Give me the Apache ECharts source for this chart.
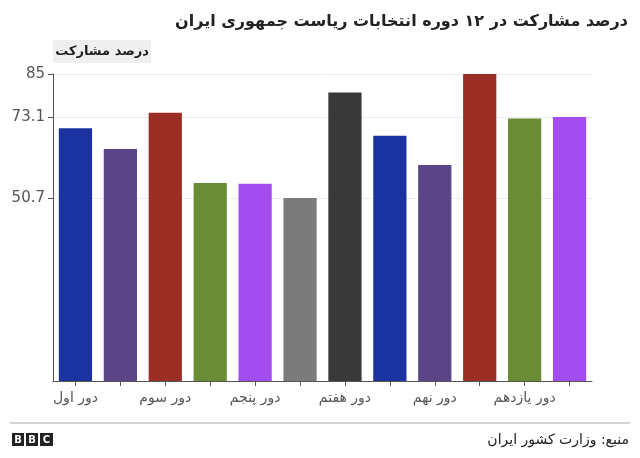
<!DOCTYPE html>
<html>
<head>
<meta charset="utf-8">
<script src="https://cdn.jsdelivr.net/npm/echarts@6/dist/echarts.min.js"></script>
<style>
html,body{margin:0;padding:0;background:#fff;}
#c{width:640px;height:458px;}
</style>
</head>
<body>
<div id="c"></div>
<script>
var categories = ['دور اول','دور دوم','دور سوم','دور چهارم','دور پنجم','دور ششم','دور هفتم','دور هشتم','دور نهم','دور دهم','دور یازدهم','دور دوازدهم'];
var turnout = [70.0, 64.2, 74.3, 54.8, 54.6, 50.7, 79.9, 67.9, 59.8, 85.0, 72.7, 73.1];
var barColors = ['#1b33a1','#5a4588','#9b2f25','#6b8c36','#a34cef','#7b7b7b','#393939','#1b33a1','#5a4588','#9b2f25','#6b8c36','#a34cef'];
var yTicks = [50.7, 73.1, 85];
var titleText = 'درصد مشارکت در ۱۲ دوره انتخابات ریاست جمهوری ایران';
var yAxisName = 'درصد مشارکت';
var sourceText = 'منبع: وزارت کشور ایران';

var FONT = '"DejaVu Sans", sans-serif';
var chart = echarts.init(document.getElementById('c'), null, {renderer:'canvas'});
chart.setOption({
  animation:false,
  backgroundColor:'#fff',
  title:{
    text:titleText, right:7, top:9,
    textStyle:{fontFamily:FONT, fontSize:16, fontWeight:'bold', color:'#222'}
  },
  grid:{left:53, right:48, top:74, bottom:77, containLabel:false},
  xAxis:{
    type:'category', data:categories,
    axisLine:{show:true, lineStyle:{color:'#555', width:1}},
    axisTick:{show:true, alignWithLabel:true, interval:0, length:5, lineStyle:{color:'#555'}},
    axisLabel:{interval:1, color:'#555', fontFamily:FONT, fontSize:14, margin:10},
    splitLine:{show:false}
  },
  yAxis:{
    type:'value', min:0, max:85,
    axisLine:{show:true, lineStyle:{color:'#555', width:1}},
    axisTick:{show:true, length:5, customValues:yTicks, lineStyle:{color:'#555'}},
    axisLabel:{customValues:yTicks, color:'#555', fontFamily:FONT, fontSize:15, margin:8,
      formatter:function(v){return String(v);}},
    splitLine:{show:true, lineStyle:{color:'#ececec', width:1}}
  },
  series:[{
    type:'bar',
    data:turnout.map(function(v,i){return {value:v, itemStyle:{color:barColors[i]}};}),
    barCategoryGap:'26%'
  }],
  graphic:[
    {type:'rect', shape:{x:53, y:40, width:98, height:23}, style:{fill:'#efefef'}},
    {type:'text', style:{x:102, y:51.5, text:yAxisName, font:'bold 13px '+FONT, fill:'#222', textAlign:'center', textVerticalAlign:'middle'}},
    {type:'line', shape:{x1:10, y1:423, x2:630, y2:423}, style:{stroke:'#aaa', lineWidth:1}},
    {type:'rect', shape:{x:12, y:433, width:12, height:13}, style:{fill:'#222'}},
    {type:'rect', shape:{x:26, y:433, width:12, height:13}, style:{fill:'#222'}},
    {type:'rect', shape:{x:40, y:433, width:13, height:13}, style:{fill:'#222'}},
    {type:'text', style:{x:18, y:440, text:'B', font:'bold 10px "DejaVu Sans"', fill:'#fff', textAlign:'center', textVerticalAlign:'middle'}},
    {type:'text', style:{x:32, y:440, text:'B', font:'bold 10px "DejaVu Sans"', fill:'#fff', textAlign:'center', textVerticalAlign:'middle'}},
    {type:'text', style:{x:46.5, y:440, text:'C', font:'bold 10px "DejaVu Sans"', fill:'#fff', textAlign:'center', textVerticalAlign:'middle'}},
    {type:'text', style:{x:629, y:440, text:sourceText, font:'14px '+FONT, fill:'#222', textAlign:'right', textVerticalAlign:'middle'}}
  ]
});
</script>
</body>
</html>
